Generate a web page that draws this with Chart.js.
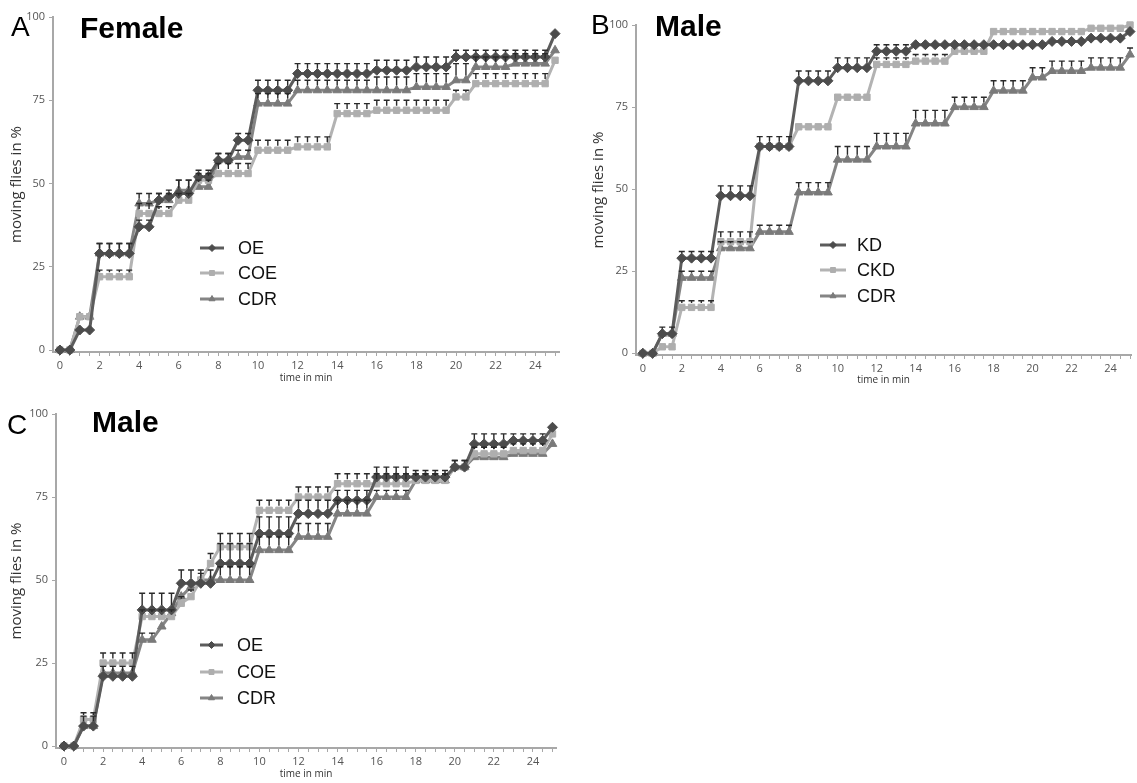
<!DOCTYPE html>
<html>
<head>
<meta charset="utf-8">
<script src="https://cdn.jsdelivr.net/npm/chart.js@4.4.1/dist/chart.umd.min.js"></script>
<style>
  body { margin: 0; background: #fff; width: 1137px; height: 783px; overflow: hidden; position: relative;
         font-family: "Liberation Sans", Arial, sans-serif; }
  canvas { position: absolute; }
  .lbl { position: absolute; line-height: 1; color: #000; white-space: nowrap; }
  .big { font-size: 30px; font-weight: bold; }
  .let { font-size: 28px; }
</style>
</head>
<body>
<canvas id="chartA" width="566" height="385" style="left:0;top:0"></canvas>
<canvas id="chartB" width="557" height="392" style="left:580px;top:0"></canvas>
<canvas id="chartC" width="566" height="388" style="left:0;top:395px"></canvas>

<div class="lbl let" style="left:11px;top:13px">A</div>
<div class="lbl big" style="left:80px;top:13px">Female</div>
<div class="lbl let" style="left:591px;top:11px">B</div>
<div class="lbl big" style="left:655px;top:11px">Male</div>
<div class="lbl let" style="left:7px;top:411px">C</div>
<div class="lbl big" style="left:92px;top:407px">Male</div>

<script>
// time points (min)
const TIME = [0,0.5,1,1.5,2,2.5,3,3.5,4,4.5,5,5.5,6,6.5,7,7.5,8,8.5,9,9.5,10,10.5,11,11.5,12,12.5,
  13,13.5,14,14.5,15,15.5,16,16.5,17,17.5,18,18.5,19,19.5,20,20.5,21,21.5,22,22.5,23,23.5,24,24.5,25];
const X_LABELS = [0,2,4,6,8,10,12,14,16,18,20,22,24];
const Y_TICKS = [0,25,50,75,100];

// A: female
const A_OE      = [0,0,6,6,29,29,29,29,37,37,45,46,47,47,52,52,57,57,63,63,78,78,78,78,83,83,83,83,83,83,83,83,84,84,84,84,85,85,85,85,88,88,88,88,88,88,88,88,88,88,95];
const A_OE_ERR  = [0,0,1,1,3,3,3,3,2,2,2,2,4,4,2,2,2,2,2,2,3,3,3,3,3,3,3,3,3,3,3,3,3,3,3,3,3,3,3,3,2,2,2,2,2,2,2,2,2,2,1];
const A_COE     = [0,0,10,10,22,22,22,22,41,41,41,41,45,45,51,51,53,53,53,53,60,60,60,60,61,61,61,61,71,71,71,71,72,72,72,72,72,72,72,72,76,76,80,80,80,80,80,80,80,80,87];
const A_COE_ERR = [0,0,1,1,2,2,2,2,3,3,2,2,2,2,2,2,3,3,3,3,3,3,3,3,3,3,3,3,3,3,3,3,3,3,3,3,3,3,3,3,2,2,3,3,3,3,3,3,3,3,1];
const A_CDR     = [0,0,10,10,29,29,29,29,44,44,45,45,48,48,49,49,57,57,58,58,74,74,74,74,78,78,78,78,78,78,78,78,78,78,78,78,79,79,79,79,81,81,85,85,85,85,86,86,86,86,90];
const A_CDR_ERR = [0,0,1,1,3,3,3,3,3,3,2,2,3,3,2,2,2,2,2,2,3,3,3,3,3,3,3,3,3,3,3,3,4,4,4,4,4,4,4,4,5,5,3,3,3,3,3,3,3,3,1];

// B: male, knock-down
const B_KD      = [0,0,6,6,29,29,29,29,48,48,48,48,63,63,63,63,83,83,83,83,87,87,87,87,92,92,92,92,94,94,94,94,94,94,94,94,94,94,94,94,94,94,95,95,95,95,96,96,96,96,98];
const B_KD_ERR  = [0,0,2,2,2,2,2,2,3,3,3,3,3,3,3,3,3,3,3,3,3,3,3,3,2,2,2,2,1,1,1,1,1,1,1,1,1,1,1,1,1,1,1,1,1,1,1,1,1,1,1];
const B_CKD     = [0,0,2,2,14,14,14,14,34,34,34,34,63,63,63,63,69,69,69,69,78,78,78,78,88,88,88,88,89,89,89,89,92,92,92,92,98,98,98,98,98,98,98,98,98,98,99,99,99,99,100];
const B_CKD_ERR = [0,0,0,0,2,2,2,2,3,3,3,3,0,0,0,0,0,0,0,0,1,1,1,1,2,2,2,2,2,2,2,2,0,0,0,0,0,0,0,0,0,0,0,0,0,0,0,0,0,0,0];
const B_CDR     = [0,0,6,6,23,23,23,23,32,32,32,32,37,37,37,37,49,49,49,49,59,59,59,59,63,63,63,63,70,70,70,70,75,75,75,75,80,80,80,80,84,84,86,86,86,86,87,87,87,87,91];
const B_CDR_ERR = [0,0,1,1,2,2,2,2,2,2,2,2,2,2,2,2,3,3,3,3,4,4,4,4,4,4,4,4,4,4,4,4,3,3,3,3,3,3,3,3,3,3,3,3,3,3,3,3,3,3,2];

// C: male, over-expression
const C_OE      = [0,0,6,6,21,21,21,21,41,41,41,41,49,49,49,49,55,55,55,55,64,64,64,64,70,70,70,70,74,74,74,74,81,81,81,81,81,81,81,81,84,84,91,91,91,91,92,92,92,92,96];
const C_OE_ERR  = [0,0,3,3,3,3,3,3,5,5,5,5,4,4,4,4,6,6,6,6,5,5,5,5,4,4,4,4,3,3,3,3,3,3,3,3,2,2,2,2,2,2,3,3,3,3,2,2,2,2,1];
const C_COE     = [0,0,8,8,25,25,25,25,39,39,39,39,43,45,50,55,60,60,60,60,71,71,71,71,75,75,75,75,79,79,79,79,79,79,79,79,80,80,80,80,84,84,88,88,88,88,89,89,89,89,94];
const C_COE_ERR = [0,0,2,2,3,3,3,3,2,2,2,2,2,2,2,3,4,4,4,4,3,3,3,3,3,3,3,3,3,3,3,3,3,3,3,3,2,2,2,2,2,2,2,2,2,2,2,2,2,2,1];
const C_CDR     = [0,0,6,6,22,22,22,22,32,32,36,40,45,48,50,50,50,50,50,50,59,59,59,59,63,63,63,63,70,70,70,70,75,75,75,75,80,80,80,80,84,84,87,87,87,87,88,88,88,88,91];
const C_CDR_ERR = [0,0,1,1,1,1,1,1,2,2,1,1,1,1,1,1,4,4,4,4,4,4,4,4,4,4,4,4,4,4,4,4,2,2,2,2,2,2,2,2,1,1,1,1,1,1,1,1,1,1,1];

const DARK = { line: "#5c5c5c", point: "#4c4c4c", style: "rectRot", r: 5 };
const LIGHT = { line: "#b3b3b3", point: "#aeaeae", style: "rect", r: 4.5 };
const MID = { line: "#858585", point: "#7a7a7a", style: "triangle", r: 5 };
const FONT = '"Open Sans", "Noto Sans", sans-serif';

function series(label, vals, errs, look) {
  return {
    label,
    data: TIME.map((t, i) => ({ x: t, y: vals[i] })),
    errors: errs,
    borderColor: look.line,
    backgroundColor: look.point,
    pointBackgroundColor: look.point,
    pointBorderColor: look.point,
    pointStyle: look.style,
    pointRadius: look.r,
    pointBorderWidth: 1,
    borderWidth: 3,
    tension: 0,
    clip: false
  };
}

// vertical error caps (upper side only)
const errorBars = {
  id: "errorBars",
  afterDatasetsDraw(chart) {
    const ctx = chart.ctx, ys = chart.scales.y;
    ctx.save();
    ctx.strokeStyle = "#2a2a2a";
    ctx.lineWidth = 1.4;
    chart.data.datasets.forEach((ds, di) => {
      const meta = chart.getDatasetMeta(di);
      meta.data.forEach((pt, i) => {
        const e = ds.errors[i];
        if (!e) return;
        const y0 = pt.y - ds.pointRadius;
        const y1 = ys.getPixelForValue(ds.data[i].y + e);
        if (y1 >= y0) return;
        ctx.beginPath();
        ctx.moveTo(pt.x, y0); ctx.lineTo(pt.x, y1);
        ctx.moveTo(pt.x - 3, y1); ctx.lineTo(pt.x + 3, y1);
        ctx.stroke();
      });
    });
    ctx.restore();
  }
};

// legend drawn inside the plot
const innerLegend = {
  id: "innerLegend",
  afterDraw(chart, args, opts) {
    const ctx = chart.ctx;
    ctx.save();
    chart.data.datasets.forEach((ds, i) => {
      const y = opts.rows[i];
      ctx.strokeStyle = ds.borderColor;
      ctx.lineWidth = 3;
      ctx.beginPath();
      ctx.moveTo(opts.x1, y); ctx.lineTo(opts.x2, y);
      ctx.stroke();
      ctx.fillStyle = ds.pointBackgroundColor;
      ctx.strokeStyle = ds.pointBorderColor;
      ctx.lineWidth = 1;
      Chart.helpers.drawPoint(ctx, { pointStyle: ds.pointStyle, radius: 3.5, borderWidth: 1, rotation: 0 },
        (opts.x1 + opts.x2) / 2, y);
      ctx.fillStyle = "#111";
      ctx.font = '18px "Liberation Sans", Arial, sans-serif';
      ctx.textBaseline = "middle";
      ctx.fillText(ds.label, opts.tx, y + 1);
    });
    ctx.restore();
  }
};

function makeChart(id, datasets, lay) {
  new Chart(document.getElementById(id), {
    type: "line",
    data: { datasets },
    plugins: [errorBars, innerLegend],
    options: {
      responsive: false,
      animation: false,
      layout: { padding: { top: lay.top, right: lay.right, left: 0, bottom: 0 } },
      plugins: {
        legend: { display: false },
        tooltip: { enabled: false },
        innerLegend: lay.legend
      },
      scales: {
        x: {
          type: "linear",
          min: lay.xmin, max: lay.xmax,
          afterFit: s => { s.height = lay.xh; },
          afterBuildTicks: s => { s.ticks = TIME.map(v => ({ value: v })); },
          ticks: {
            autoSkip: false, maxRotation: 0, padding: 3,
            color: "#555", font: { family: FONT, size: 11 },
            callback: v => X_LABELS.includes(v) ? String(v) : ""
          },
          grid: { drawOnChartArea: false, tickLength: 4, color: "#a8a8a8", tickWidth: 1 },
          border: { color: "#a8a8a8", width: 2 },
          title: { display: true, text: "time in min", color: "#333",
                   font: { family: FONT, size: 10 }, padding: { top: 0, bottom: lay.xtp } }
        },
        y: {
          min: lay.ymin, max: 100,
          afterFit: s => { s.width = lay.yw; },
          afterBuildTicks: s => { s.ticks = Y_TICKS.map(v => ({ value: v })); },
          ticks: { padding: 4, color: "#555", font: { family: FONT, size: 11 } },
          grid: { drawOnChartArea: false, tickLength: 4, color: "#a8a8a8" },
          border: { color: "#a8a8a8", width: 2 },
          title: { display: true, text: "moving flies in %", color: "#333",
                   font: { family: FONT, size: 15 }, padding: { top: lay.ytp, bottom: 0 } }
        }
      }
    }
  });
}

makeChart("chartA", [
  series("OE", A_OE, A_OE_ERR, DARK),
  series("COE", A_COE, A_COE_ERR, LIGHT),
  series("CDR", A_CDR, A_CDR_ERR, MID)
], { top: 17, right: 7, yw: 53, xh: 33, xmin: -0.35, xmax: 25.2, ymin: -0.6, xtp: 1, ytp: 8,
     legend: { x1: 200, x2: 224, tx: 238, rows: [248, 273, 299] } });

makeChart("chartB", [
  series("KD", B_KD, B_KD_ERR, DARK),
  series("CKD", B_CKD, B_CKD_ERR, LIGHT),
  series("CDR", B_CDR, B_CDR_ERR, MID)
], { top: 25, right: 0, yw: 56, xh: 37, xmin: -0.35, xmax: 25.05, ymin: -0.5, xtp: 6, ytp: 10,
     legend: { x1: 240, x2: 266, tx: 277, rows: [245, 270, 296] } });

makeChart("chartC", [
  series("OE", C_OE, C_OE_ERR, DARK),
  series("COE", C_COE, C_COE_ERR, LIGHT),
  series("CDR", C_CDR, C_CDR_ERR, MID)
], { top: 19, right: 10, yw: 56, xh: 35, xmin: -0.41, xmax: 25.18, ymin: -0.6, xtp: 3, ytp: 8,
     legend: { x1: 200, x2: 223, tx: 237, rows: [250, 277, 303] } });
</script>
</body>
</html>
